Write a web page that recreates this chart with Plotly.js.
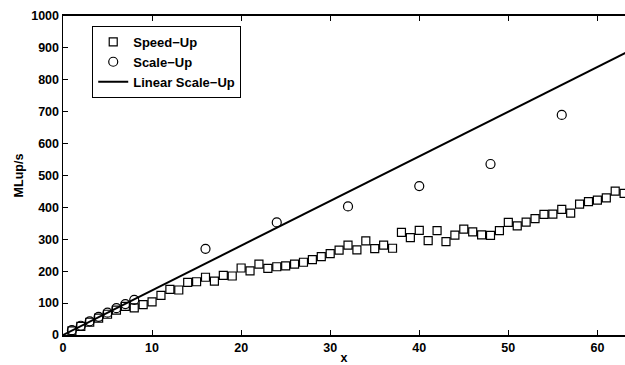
<!DOCTYPE html>
<html>
<head>
<meta charset="utf-8">
<script src="https://cdn.plot.ly/plotly-3.0.1.min.js"></script>
<style>html,body{margin:0;padding:0;background:#fff;}#chart{width:625px;height:365px;}</style>
</head>
<body>
<div id="chart"></div>
<script>
const speedX = [];
for (let i = 1; i <= 63; i++) speedX.push(i);
const speedY = [13, 27, 40, 53, 65, 78, 90, 85, 95, 104,
  124, 143, 141, 165, 167, 181, 169, 187, 185, 210,
  201, 222, 209, 214, 217, 222, 228, 236, 246, 255,
  266, 282, 267, 295, 271, 282, 272, 322, 305, 328,
  296, 327, 293, 313, 332, 323, 314, 312, 327, 353,
  342, 354, 365, 378, 379, 394, 382, 410, 418, 423,
  430, 451, 444];
const scaleX = [1, 2, 3, 4, 5, 6, 7, 8, 16, 24, 32, 40, 48, 56];
const scaleY = [15, 29, 43, 57, 70, 84, 97, 110, 270, 353, 403, 467, 536, 690];
const linearX = [0, 64];
const linearY = [0, 896];
const xTicks = [0, 10, 20, 30, 40, 50, 60];
const yTicks = [0, 100, 200, 300, 400, 500, 600, 700, 800, 900, 1000];
const seriesNames = ['Speed\u2212Up', 'Scale\u2212Up', 'Linear Scale\u2212Up'];

const fam = 'Liberation Sans, Arial, sans-serif';
const fnt = {family: fam, size: 12.5, color: '#000', weight: 'bold'};

const traces = [
  {x: speedX, y: speedY, name: seriesNames[0], type: 'scatter', mode: 'markers',
   marker: {symbol: 'square-open', size: 8, color: '#000', line: {width: 1.2, color: '#000'}}},
  {x: scaleX, y: scaleY, name: seriesNames[1], type: 'scatter', mode: 'markers',
   marker: {symbol: 'circle-open', size: 9, color: '#000', line: {width: 1.2, color: '#000'}}},
  {x: linearX, y: linearY, name: seriesNames[2], type: 'scatter', mode: 'lines',
   line: {color: '#000', width: 2}}
];

const layout = {
  width: 625, height: 365,
  margin: {l: 63, r: 0, t: 16, b: 30, pad: 0},
  paper_bgcolor: '#fff', plot_bgcolor: '#fff',
  font: fnt,
  showlegend: true,
  legend: {x: 0.052, y: 0.969, xanchor: 'left', yanchor: 'top',
    bordercolor: '#000', borderwidth: 1, bgcolor: '#fff',
    font: {family: fam, size: 13, color: '#000', weight: 'bold'},
    tracegroupgap: 0, itemwidth: 30},
  xaxis: {range: [0, 63.1], tickvals: xTicks, ticktext: xTicks.map(String),
    ticks: 'inside', ticklen: 5, tickwidth: 1, tickcolor: '#000',
    showline: true, linecolor: '#000', linewidth: 2, mirror: 'ticks',
    showgrid: false, zeroline: false,
    tickfont: fnt,
    title: {text: 'x', font: fnt, standoff: 3}},
  yaxis: {range: [0, 1000], tickvals: yTicks, ticktext: yTicks.map(String),
    ticks: 'inside', ticklen: 5, tickwidth: 1, tickcolor: '#000',
    showline: true, linecolor: '#000', linewidth: 1.5, mirror: false,
    showgrid: false, zeroline: false,
    tickfont: fnt,
    title: {text: 'MLup/s', font: fnt, standoff: 5}}
};

Plotly.newPlot('chart', traces, layout, {displayModeBar: false, staticPlot: true});
</script>
</body>
</html>
